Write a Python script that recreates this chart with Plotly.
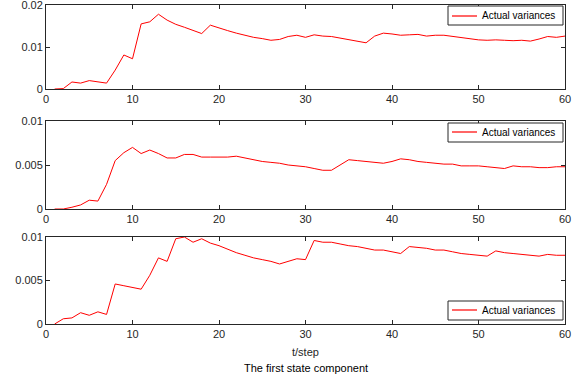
import plotly.graph_objects as go

t = list(range(1, 61))

var1 = [0, 0.0001, 0.00167, 0.0014, 0.002, 0.0017, 0.0014, 0.0045, 0.0081, 0.0072,
        0.0155, 0.016, 0.0178, 0.0164, 0.0154, 0.0147, 0.0139, 0.0132, 0.0152, 0.0145,
        0.0139, 0.0133, 0.0128, 0.0123, 0.012, 0.0116, 0.0118, 0.0125, 0.0128, 0.0123,
        0.0129, 0.0126, 0.0125, 0.0121, 0.0117, 0.0114, 0.011, 0.0126, 0.0133, 0.0131,
        0.0128, 0.0129, 0.013, 0.0126, 0.0128, 0.0128, 0.0125, 0.0122, 0.012, 0.0117,
        0.0116, 0.0117, 0.0116, 0.0115, 0.0116, 0.0114, 0.0119, 0.0125, 0.0123, 0.0126]

var2 = [0, 0, 0.0002, 0.00046, 0.001, 0.0009, 0.0028, 0.0055, 0.0064, 0.007,
        0.0063, 0.0067, 0.0063, 0.0058, 0.0058, 0.0062, 0.0062, 0.0059, 0.0059, 0.0059,
        0.0059, 0.006, 0.0058, 0.0056, 0.0054, 0.0053, 0.0052, 0.005, 0.0049, 0.0048,
        0.0046, 0.0044, 0.0044, 0.005, 0.0056, 0.0055, 0.0054, 0.0053, 0.0052, 0.0054,
        0.0057, 0.0056, 0.0054, 0.0053, 0.0052, 0.0051, 0.0051, 0.0049, 0.0049, 0.0049,
        0.0048, 0.0047, 0.0046, 0.0049, 0.0048, 0.0048, 0.0047, 0.0047, 0.0048, 0.0048]

var3 = [0, 0.0006, 0.0007, 0.0013, 0.001, 0.0014, 0.0011, 0.0046, 0.0044, 0.0042,
        0.004, 0.0056, 0.0076, 0.0072, 0.0098, 0.01, 0.0094, 0.0098, 0.0093, 0.009,
        0.0086, 0.0082, 0.0079, 0.0076, 0.0074, 0.0072, 0.0069, 0.0072, 0.0075, 0.0074,
        0.0096, 0.0094, 0.0094, 0.0092, 0.009, 0.0089, 0.0087, 0.0085, 0.0085, 0.0083,
        0.0081, 0.0089, 0.0088, 0.0087, 0.0085, 0.0085, 0.0083, 0.0081, 0.008, 0.0079,
        0.0078, 0.0084, 0.0082, 0.0081, 0.008, 0.0079, 0.0078, 0.008, 0.0079, 0.0079]

x_ticks = [0, 10, 20, 30, 40, 50, 60]
y1_ticks = [0, 0.01, 0.02]
y1_text = ["0", "0.01", "0.02"]
y23_ticks = [0, 0.005, 0.01]
y23_text = ["0", "0.005", "0.01"]

series_name = "Actual variances"
xlabel = "t/step"
title_text = "The first state component"

FONT = "Liberation Sans, Arial, Helvetica, sans-serif"
TXT = "#262626"
RED = "#ff0000"

W, H = 584, 382
ML, MR, MT, MB = 46, 19, 5, 58
PW, PH = W - ML - MR, H - MT - MB


def px_x(px):
    return (px - ML) / PW


def px_y(py):
    return (H - MB - py) / PH


fig = go.Figure()
for i, vals in enumerate([var1, var2, var3], start=1):
    fig.add_trace(go.Scatter(
        x=t, y=vals, mode="lines", name=series_name,
        line=dict(color=RED, width=1),
        xaxis="x" if i == 1 else f"x{i}", yaxis="y" if i == 1 else f"y{i}",
        showlegend=False,
    ))

domains = [(px_y(89), 1.0), (px_y(209), px_y(121)), (0.0, px_y(237))]
axis_common = dict(showline=True, linecolor="#262626", linewidth=1, mirror="ticks",
                   ticks="inside", ticklen=4, tickcolor="#262626", showgrid=False,
                   zeroline=False, automargin=False, ticklabeloverflow="allow",
                   tickfont=dict(family=FONT, size=11, color=TXT))

layout = dict(
    width=W, height=H,
    margin=dict(l=ML, r=MR, t=MT, b=MB),
    paper_bgcolor="white", plot_bgcolor="white",
    font=dict(family=FONT, size=11, color=TXT),
    showlegend=False,
)
for i, dom in enumerate(domains, start=1):
    xk = "xaxis" if i == 1 else f"xaxis{i}"
    yk = "yaxis" if i == 1 else f"yaxis{i}"
    xa = "x" if i == 1 else f"x{i}"
    ya = "y" if i == 1 else f"y{i}"
    layout[xk] = dict(axis_common, range=[0, 60], tickvals=x_ticks, anchor=ya, domain=[0, 1])
    if i == 1:
        layout[yk] = dict(axis_common, range=[0, 0.02], tickvals=y1_ticks, ticktext=y1_text,
                          anchor=xa, domain=list(dom))
    else:
        layout[yk] = dict(axis_common, range=[0, 0.01], tickvals=y23_ticks, ticktext=y23_text,
                          anchor=xa, domain=list(dom))

fig.update_layout(**layout)

# legend boxes (MATLAB-style), one per panel: (top px, bottom px)
legend_boxes = [(6, 25), (123, 142), (301, 320)]
bx0, bx1 = 448, 563
for top, bot in legend_boxes:
    fig.add_shape(type="rect", xref="paper", yref="paper",
                  x0=px_x(bx0), x1=px_x(bx1), y0=px_y(bot), y1=px_y(top),
                  line=dict(color="#262626", width=1), fillcolor="white", layer="above")
    yc = round((top + bot) / 2)
    fig.add_shape(type="line", xref="paper", yref="paper",
                  x0=px_x(452), x1=px_x(477), y0=px_y(yc), y1=px_y(yc),
                  line=dict(color=RED, width=1.2), layer="above")
    fig.add_annotation(text=series_name, xref="paper", yref="paper",
                       x=px_x(480), y=px_y(yc), xanchor="left", yanchor="middle",
                       showarrow=False, font=dict(family=FONT, size=10, color="black"))

fig.add_annotation(text=xlabel, xref="paper", yref="paper", x=0.5, y=px_y(352),
                   showarrow=False, font=dict(family=FONT, size=11, color=TXT),
                   xanchor="center", yanchor="middle")
fig.add_annotation(text=title_text, xref="paper", yref="paper", x=0.5, y=px_y(368),
                   showarrow=False, font=dict(family=FONT, size=11, color="black"),
                   xanchor="center", yanchor="middle")

fig.write_html("out.html")
